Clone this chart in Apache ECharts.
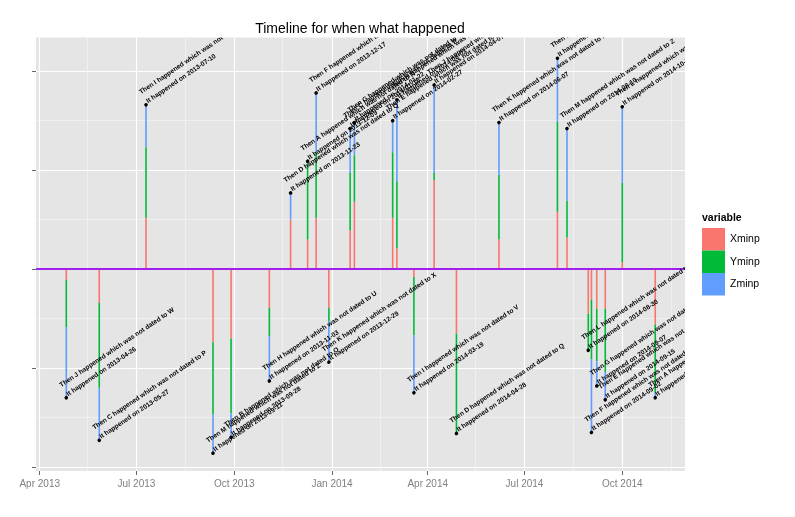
<!DOCTYPE html>
<html><head><meta charset="utf-8">
<script src="https://cdn.jsdelivr.net/npm/echarts@6/dist/echarts.min.js"></script>
<style>html,body{margin:0;padding:0;background:#fff}#c{width:795px;height:517px}</style>
</head><body><div id="c"></div>
<script>
// ---- data ----
const eventDates = ['2013-04-26','2013-05-27','2013-07-10','2013-09-11','2013-09-28','2013-11-03','2013-11-23','2013-12-09','2013-12-17','2013-12-29','2014-01-18','2014-01-22','2014-02-27','2014-03-03','2014-03-19','2014-04-07','2014-04-28','2014-06-07','2014-08-01','2014-08-10','2014-08-30','2014-09-02','2014-09-07','2014-09-15','2014-10-01','2014-11-01'];
const whatHappened = ['J','C','I','M','B','H','D','A','F','K','C','G','E','H','I','J','D','K','B','M','L','F','G','E','L','A'];
const notDatedTo   = ['W','P','V','Z','O','U','Q','N','S','X','P','T','R','U','V','W','Q','X','O','Z','Y','S','T','R','Y','N'];
const Xminp = [-0.11,-0.34,0.52,-0.74,-0.70,-0.39,0.50,0.30,0.52,-0.39,0.39,0.68,0.52,0.21,-0.08,0.90,-0.65,0.30,0.58,0.32,-0.45,-0.31,-0.40,-0.40,0.07,-0.56];
const Yminp = [-0.48,-0.86,0.71,-0.73,-0.76,-0.29,0.00,0.77,0.66,-0.14,0.58,0.47,0.66,0.67,-0.59,0.07,-1.00,0.65,0.91,0.37,-0.36,-0.60,-0.53,-0.64,0.80,-0.69];
const Zminp = [-0.71,-0.53,0.43,-0.39,-0.24,-0.45,0.27,0.02,0.60,-0.41,0.45,0.33,0.32,0.83,-0.58,0.89,-0.01,0.53,0.64,0.73,-0.01,-0.74,-0.25,-0.28,0.77,-0.05];
const xTickDates = ['2013-04-01','2013-07-01','2013-10-01','2014-01-01','2014-04-01','2014-07-01','2014-10-01'];
const xTickLabels = ['Apr 2013','Jul 2013','Oct 2013','Jan 2014','Apr 2014','Jul 2014','Oct 2014'];
const xMinorDates = ['2013-05-16','2013-08-16','2013-11-15','2014-02-15','2014-05-16','2014-08-16','2014-11-16'];
const yTicks = [-2,-1,0,1,2];
const yMinor = [-1.5,-0.5,0.5,1.5];
const seriesNames = ['Xminp','Yminp','Zminp'];
const titleText = 'Timeline for when what happened';
const legendTitle = 'variable';

// ---- build ----
const ts = s => { const p = s.split('-').map(Number); return Date.UTC(p[0], p[1]-1, p[2]); };
const T = eventDates.map(ts);
const totals = T.map((t,i) => Xminp[i] + Yminp[i] + Zminp[i]);
const line1 = whatHappened.map((w,i) => 'Then ' + w + ' happened which was not dated to ' + notDatedTo[i]);
const line2 = eventDates.map(d => 'It happened on ' + d);
const FAM = '"Liberation Sans", Arial, sans-serif';
const FONT = 'bold 6.6px ' + FAM;
const ang = 34 * Math.PI / 180;
const colors = ['#F8766D','#00BA38','#619CFF'];
const tickTs = xTickDates.map(ts);
const minorTs = xMinorDates.map(ts);
const AX = {min: Date.UTC(2013,2,28,12), max: Date.UTC(2014,10,29)};

const chart = echarts.init(document.getElementById('c'), null, {renderer:'canvas'});
// stacked segments: base of each variable is the sum of the previous ones
const stacks = [Xminp, Yminp, Zminp];
const segSeries = stacks.map((arr, k) => ({
  name: seriesNames[k], type: 'custom', silent: true, z: 2,
  xAxisIndex: 0, yAxisIndex: 0, clip: true,
  itemStyle: {color: colors[k]},
  encode: {x: 0, y: [1, 2]},
  data: arr.map((v, i) => {
    let base = 0;
    for (let m = 0; m < k; m++) base += stacks[m][i];
    return [T[i], base, base + v];
  }),
  renderItem: (params, api) => {
    const a = api.coord([api.value(0), api.value(1)]);
    const b = api.coord([api.value(0), api.value(2)]);
    return {type: 'rect', shape: {x: a[0] - 0.8, y: Math.min(a[1], b[1]), width: 1.6, height: Math.abs(b[1] - a[1])},
            style: {fill: colors[k]}};
  }
}));
segSeries[0].markLine = {
  silent: true, symbol: 'none', label: {show: false}, z: 6,
  lineStyle: {color: '#A020F0', width: 2.2, type: 'solid'},
  data: [{yAxis: 0}], animation: false
};

chart.setOption({
  animation: false,
  title: [
    {text: titleText, left: 355, top: 17, textAlign: 'center',
     textStyle: {fontFamily: FAM, fontSize: 14, fontWeight: 'normal', color: '#000'}},
    {text: legendTitle, left: 697, top: 208,
     textStyle: {fontFamily: FAM, fontSize: 10.5, fontWeight: 'bold', color: '#000'}}
  ],
  legend: {
    data: seriesNames.map((n, k) => ({name: n, itemStyle: {color: colors[k]}})),
    orient: 'vertical', left: 702, top: 228, padding: 0,
    itemWidth: 23, itemHeight: 22.5, itemGap: 0, icon: 'rect', selectedMode: false,
    textStyle: {fontFamily: FAM, fontSize: 10.5, color: '#000'}
  },
  grid: {left: 36, right: 110, top: 37.5, bottom: 46, show: true, backgroundColor: '#E5E5E5', borderWidth: 0},
  xAxis: [
    {type: 'value', min: AX.min, max: AX.max, scale: true,
     axisLine: {show: false, onZero: false},
     axisTick: {show: true, length: 4, lineStyle: {color: '#666'}, customValues: tickTs},
     axisLabel: {show: true, customValues: tickTs, margin: 8, color: '#7F7F7F', fontSize: 10,
       fontFamily: FAM, hideOverlap: false,
       formatter: v => { const j = tickTs.indexOf(v); return j >= 0 ? xTickLabels[j] : ''; }},
     splitLine: {show: true, lineStyle: {color: '#FFFFFF', width: 1.2}}},
    {type: 'value', min: AX.min, max: AX.max, scale: true, position: 'bottom', gridIndex: 0,
     axisLine: {show: false, onZero: false},
     axisTick: {show: false, customValues: minorTs},
     axisLabel: {show: false, customValues: minorTs},
     splitLine: {show: true, lineStyle: {color: '#F2F2F2', width: 0.8}}}
  ],
  yAxis: [
    {type: 'value', min: -2.04, max: 2.34,
     axisLine: {show: false, onZero: false},
     axisTick: {show: true, length: 4, lineStyle: {color: '#666'}, customValues: yTicks},
     axisLabel: {show: false, customValues: yTicks},
     splitLine: {show: true, lineStyle: {color: '#FFFFFF', width: 1.2}}},
    {type: 'value', min: -2.04, max: 2.34,
     axisLine: {show: false, onZero: false},
     axisTick: {show: false, customValues: yMinor},
     axisLabel: {show: false, customValues: yMinor},
     splitLine: {show: true, lineStyle: {color: '#F2F2F2', width: 0.8}}}
  ],
  series: segSeries.concat([{
    type: 'custom', name: 'labels', clip: true, z: 10, silent: true,
    xAxisIndex: 0, yAxisIndex: 0,
    encode: {x: 0, y: 1},
    data: T.map((t,i) => [t, totals[i], i]),
    renderItem: (params, api) => {
      const i = api.value(2);
      const p = api.coord([api.value(0), api.value(1)]);
      return {
        type: 'group', x: p[0], y: p[1], rotation: ang,
        children: [
          {type: 'circle', shape: {cx: 0, cy: 0, r: 1.8}, style: {fill: '#000'}},
          {type: 'text', x: 1.7, y: -13.3, style: {text: line1[i], font: FONT, fill: '#000', align: 'left', verticalAlign: 'middle'}},
          {type: 'text', x: 2.5, y: -2, style: {text: line2[i], font: FONT, fill: '#000', align: 'left', verticalAlign: 'middle'}}
        ]
      };
    }
  }])
});
</script>
</body></html>
